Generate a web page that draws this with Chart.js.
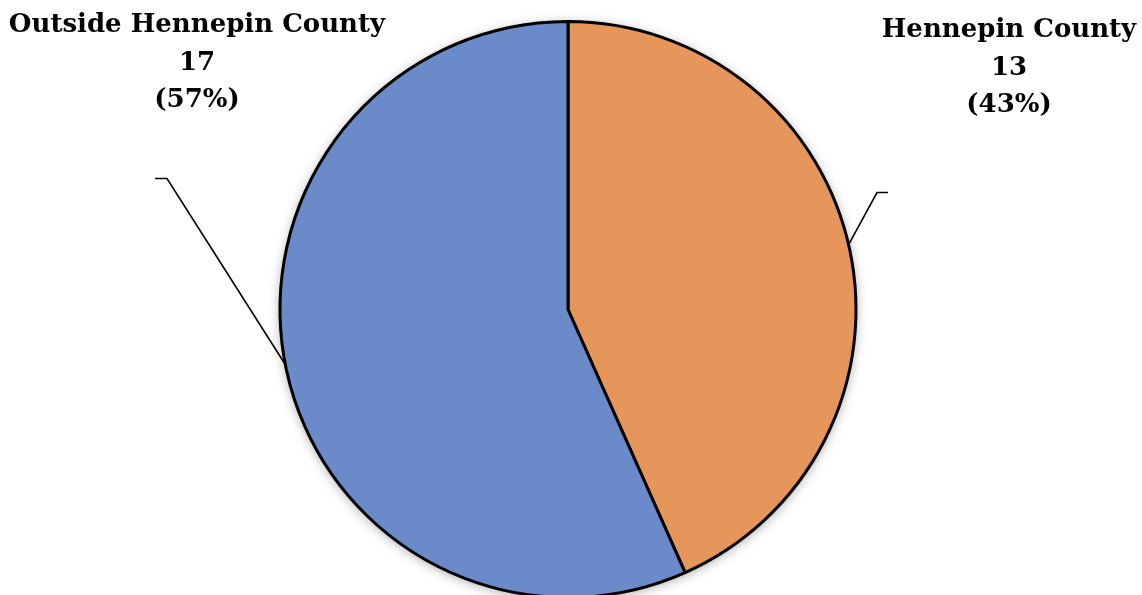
<!DOCTYPE html>
<html>
<head>
<meta charset="utf-8">
<script src="https://cdn.jsdelivr.net/npm/chart.js@4.4.1/dist/chart.umd.min.js"></script>
<style>
  html, body { margin: 0; padding: 0; background: #ffffff; overflow: hidden; }
  #wrap { position: relative; width: 1142px; height: 620px; }
</style>
</head>
<body>
<div id="wrap"><canvas id="pieChart"></canvas></div>
<script>
const categories = ['Hennepin County', 'Outside Hennepin County'];
const counts = [13, 17];
const percentLabels = ['(43%)', '(57%)'];
const sliceColors = ['#E6955B', '#6A8AC9'];

// label block centre and leader line layout per slice (relative to the pie centre)
const labelBlocks = [
    { dx: 441, dy: -279, leaderAngle: 77, elbow: [309, -117], tail: [320, -117] },
    { dx: -371, dy: -284, leaderAngle: 259, elbow: [-401, -131], tail: [-413, -131] }
];

const pieExtras = {
    id: 'pieExtras',
    beforeDatasetsDraw(chart) {
        const arc = chart.getDatasetMeta(0).data[0];
        const ctx = chart.ctx;
        ctx.save();
        ctx.shadowColor = 'rgba(0, 0, 0, 0.35)';
        ctx.shadowBlur = 12;
        ctx.shadowOffsetY = 2;
        ctx.fillStyle = '#ffffff';
        ctx.beginPath();
        ctx.arc(arc.x, arc.y, arc.outerRadius, 0, Math.PI * 2);
        ctx.fill();
        ctx.restore();
    },
    afterDatasetsDraw(chart) {
        const meta = chart.getDatasetMeta(0);
        const ctx = chart.ctx;
        const cx = meta.data[0].x;
        const cy = meta.data[0].y;
        const r = meta.data[0].outerRadius;
        ctx.save();
        meta.data.forEach((arc, i) => {
            const b = labelBlocks[i];
            // leader line from the rim to the label
            const a = (b.leaderAngle - 90) * Math.PI / 180;
            ctx.strokeStyle = '#000000';
            ctx.lineWidth = 1.6;
            ctx.beginPath();
            ctx.moveTo(cx + r * Math.cos(a), cy + r * Math.sin(a));
            ctx.lineTo(cx + b.elbow[0], cy + b.elbow[1]);
            ctx.lineTo(cx + b.tail[0], cy + b.tail[1]);
            ctx.stroke();

            // label text
            ctx.fillStyle = '#000000';
            ctx.font = 'bold 26px "DejaVu Serif"';
            ctx.textAlign = 'center';
            ctx.textBaseline = 'middle';
            const lines = [categories[i], String(counts[i]), percentLabels[i]];
            lines.forEach((t, k) => {
                ctx.fillText(t, cx + b.dx, cy + b.dy + k * 37.5);
            });
        });
        ctx.restore();
    }
};

new Chart(document.getElementById('pieChart').getContext('2d'), {
    type: 'pie',
    data: {
        labels: categories,
        datasets: [{
            data: counts,
            backgroundColor: sliceColors,
            borderColor: '#000000',
            borderWidth: 3,
            borderAlign: 'center'
        }]
    },
    options: {
        responsive: true,
        maintainAspectRatio: false,
        animation: false,
        layout: {
            padding: { top: 20, bottom: 21, left: 0, right: 6 }
        },
        plugins: {
            legend: { display: false },
            tooltip: { enabled: false }
        }
    },
    plugins: [pieExtras]
});
</script>
</body>
</html>
